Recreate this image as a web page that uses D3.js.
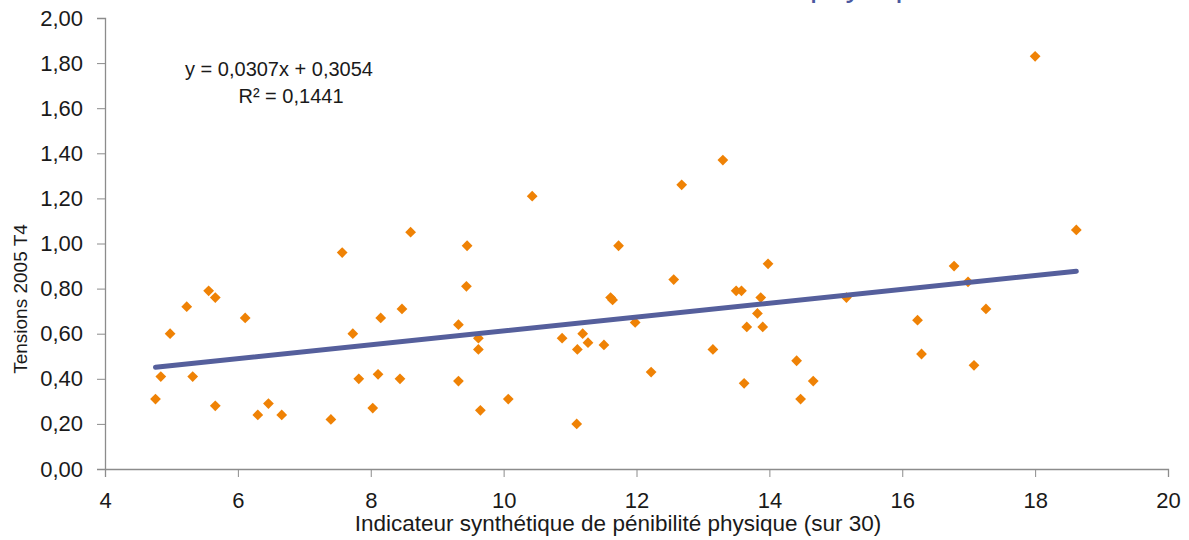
<!DOCTYPE html>
<html>
<head>
<meta charset="utf-8">
<script src="https://cdn.jsdelivr.net/npm/d3@7/dist/d3.min.js"></script>
<style>
  html, body { margin: 0; padding: 0; background: #fff; }
  svg { display: block; font-family: "Liberation Sans", Arial, Helvetica, sans-serif; }
</style>
</head>
<body>
<svg id="chart" width="1189" height="540"></svg>
<script>
// Physical hardship indicator (x) vs. 2005 Q4 tensions (y), one entry per occupation
const hardship = [
  4.76, 4.84, 4.98, 5.23, 5.32, 5.56, 5.66, 5.66, 6.11, 6.30, 6.46, 6.66,
  7.40, 7.57, 7.73, 7.82, 8.03, 8.11, 8.15, 8.44, 8.47, 8.60,
  9.32, 9.32, 9.44, 9.45, 9.62, 9.62, 9.65, 10.07, 10.43, 10.88,
  11.10, 11.11, 11.19, 11.27, 11.51, 11.61, 11.64, 11.73, 11.98, 12.22,
  12.56, 12.68, 13.15, 13.30, 13.50, 13.58, 13.62, 13.66, 13.82, 13.87,
  13.90, 13.98, 14.41, 14.47, 14.66, 15.16, 16.23, 16.29, 16.78, 16.99,
  17.08, 17.26, 18.00, 18.62
];
const tensions = [
  0.31, 0.41, 0.60, 0.72, 0.41, 0.79, 0.76, 0.28, 0.67, 0.24, 0.29, 0.24,
  0.22, 0.96, 0.60, 0.40, 0.27, 0.42, 0.67, 0.40, 0.71, 1.05,
  0.64, 0.39, 0.81, 0.99, 0.58, 0.53, 0.26, 0.31, 1.21, 0.58,
  0.20, 0.53, 0.60, 0.56, 0.55, 0.76, 0.75, 0.99, 0.65, 0.43,
  0.84, 1.26, 0.53, 1.37, 0.79, 0.79, 0.38, 0.63, 0.69, 0.76,
  0.63, 0.91, 0.48, 0.31, 0.39, 0.76, 0.66, 0.51, 0.90, 0.83,
  0.46, 0.71, 1.83, 1.06
];

// Linear fit reported on the chart
const slope = 0.0307;
const intercept = 0.3054;
const rSquared = 0.1441;

const xTicks = [4, 6, 8, 10, 12, 14, 16, 18, 20];
const yTicks = [0, 0.2, 0.4, 0.6, 0.8, 1.0, 1.2, 1.4, 1.6, 1.8, 2.0];

const xTitle = "Indicateur synthétique de pénibilité physique (sur 30)";
const yTitle = "Tensions 2005 T4";
const chartTitle = "physique";

const fr = d3.formatLocale({ decimal: ",", thousands: "\u00a0", grouping: [3], currency: ["", " €"] });
const fmt2 = fr.format(".2f");
const fmt4 = fr.format(".4f");

const svg = d3.select("#chart");
const margin = { left: 105, right: 21, top: 18, bottom: 71 };
const W = 1189, H = 540;

const x = d3.scaleLinear().domain([4, 20]).range([margin.left, W - margin.right]);
const y = d3.scaleLinear().domain([0, 2]).range([H - margin.bottom, margin.top]);

const axisColor = "#8c8c8c";
const textColor = "#1a1a1a";

// Title, running above the top edge of the frame
svg.append("text")
  .attr("x", 810).attr("y", -4)
  .attr("fill", "#4b58a0")
  .attr("font-size", 32)
  .text(chartTitle);

// Y axis
const yAxis = svg.append("g")
  .attr("transform", `translate(${margin.left},0)`)
  .call(d3.axisLeft(y).tickValues(yTicks).tickFormat(fmt2).tickSizeOuter(0).tickSize(8).tickPadding(14));
// X axis
const xAxis = svg.append("g")
  .attr("transform", `translate(0,${H - margin.bottom})`)
  .call(d3.axisBottom(x).tickValues(xTicks).tickFormat(d3.format("d")).tickSizeOuter(0).tickSize(8).tickPadding(15));

[yAxis, xAxis].forEach(g => {
  g.select(".domain").attr("stroke", axisColor).attr("stroke-width", 1.3);
  g.selectAll(".tick line").attr("stroke", axisColor).attr("stroke-width", 1);
  g.selectAll(".tick text").attr("fill", textColor).attr("font-size", 22)
    .attr("font-family", "\"Liberation Sans\", Arial, sans-serif");
});

// Axis titles
svg.append("text")
  .attr("x", 618).attr("y", 531)
  .attr("text-anchor", "middle")
  .attr("fill", textColor).attr("font-size", 22.5)
  .text(xTitle);

svg.append("text")
  .attr("transform", `translate(27,${299}) rotate(-90)`)
  .attr("text-anchor", "middle")
  .attr("fill", textColor).attr("font-size", 19)
  .text(yTitle);

// Data points as diamonds
const pts = hardship.map((v, i) => ({ x: v, y: tensions[i] }));
const diamond = d3.symbol().type(d3.symbolDiamond2).size(74);
svg.append("g").selectAll("path")
  .data(pts).join("path")
  .attr("transform", d => `translate(${x(d.x)},${y(d.y)})`)
  .attr("d", diamond)
  .attr("fill", "#ef8205");

// Trend line over the data range
const xr = d3.extent(hardship);
const fitPts = xr.map(v => ({ x: v, y: slope * v + intercept }));
svg.append("path")
  .datum(fitPts)
  .attr("d", d3.line().x(d => x(d.x)).y(d => y(d.y)))
  .attr("fill", "none")
  .attr("stroke", "#555f9c")
  .attr("stroke-width", 5)
  .attr("stroke-linecap", "round");

// Equation label
const eq = svg.append("text")
  .attr("fill", textColor).attr("font-size", 20).attr("text-anchor", "middle");
eq.append("tspan").attr("x", 279).attr("y", 76)
  .text(`y = ${fmt4(slope)}x + ${fmt4(intercept)}`);
eq.append("tspan").attr("x", 291).attr("y", 103)
  .text(`R² = ${fmt4(rSquared)}`);
</script>
</body>
</html>
